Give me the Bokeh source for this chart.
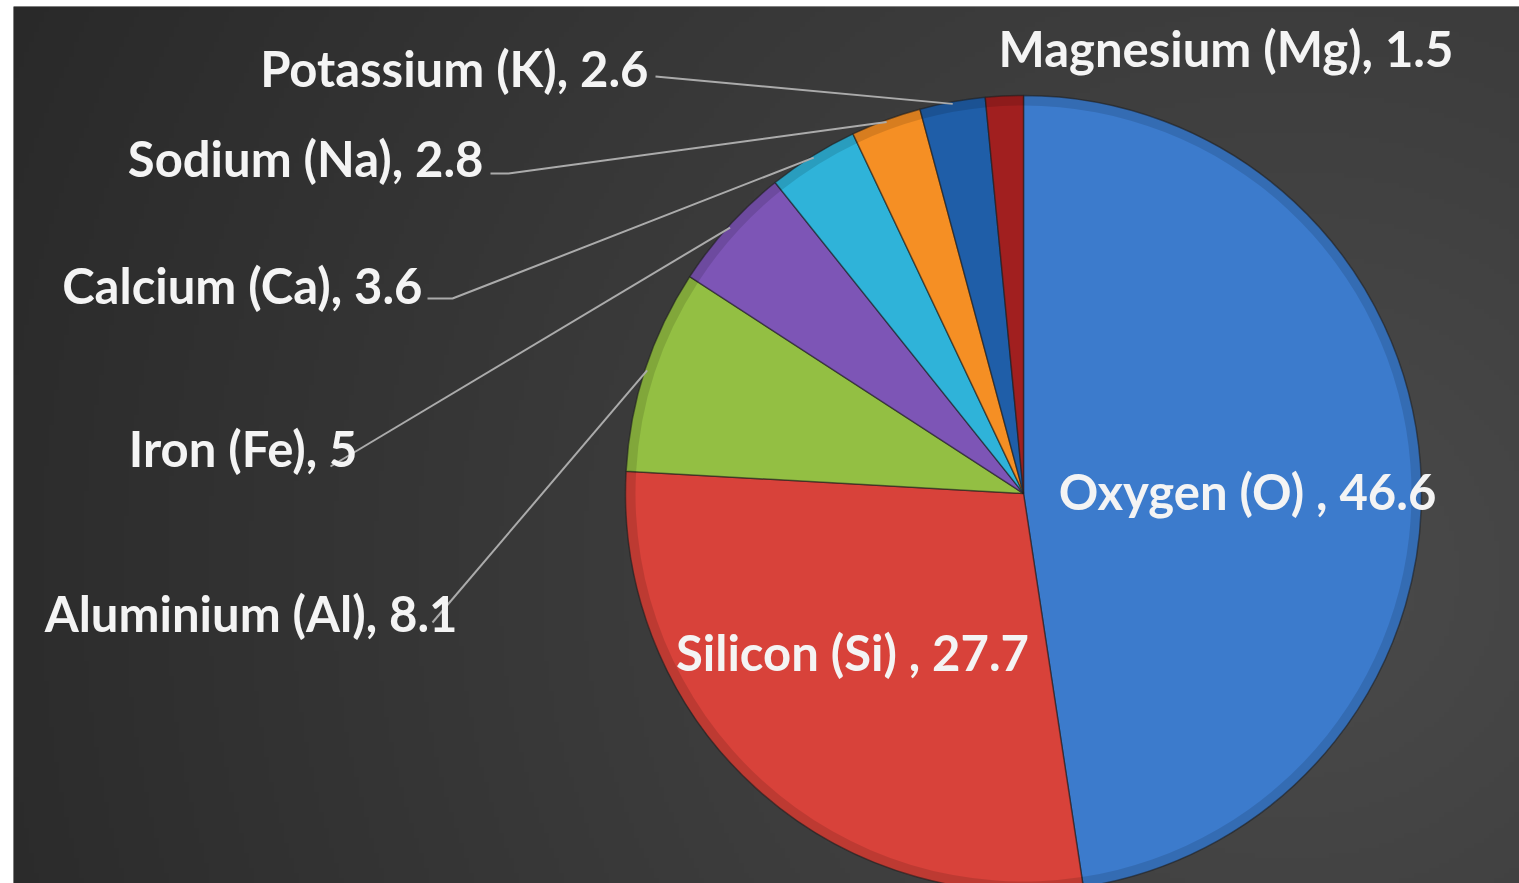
import numpy as np
from math import pi, cos, sin
from bokeh.plotting import figure
from bokeh.models import Range1d
from bokeh.embed import file_html
from bokeh.resources import INLINE
from bokeh.core.properties import value

# ---- data ----
elements = ["Oxygen (O)", "Silicon (Si)", "Aluminium (Al)", "Iron (Fe)",
            "Calcium (Ca)", "Sodium (Na)", "Potassium (K)", "Magnesium (Mg)"]
percent = [46.6, 27.7, 8.1, 5, 3.6, 2.8, 2.6, 1.5]
value_text = ["46.6", "27.7", "8.1", "5", "3.6", "2.8", "2.6", "1.5"]
separators = [" , ", " , ", ", ", ", ", ", ", ", ", ", ", ", "]
colors = ["#3c7bcc", "#d8423a", "#93bf43", "#7d55b6",
          "#2fb3d9", "#f58f24", "#1f5ea8", "#a11f1f"]

# ---- layout (screen pixel coordinates of the reference) ----
W, H = 1519, 883
LEFT, TOP = 13, 6
def Y(sy):
    return 883 - sy

cx, cy, R = 1023, Y(493), 398
# label anchor (x, baseline y), alignment
label_pos = [(1247, 490, "center"), (852, 651, "center"), (457, 612, "right"),
             (357, 447, "right"), (422, 284, "right"), (483, 157, "right"),
             (648, 67, "right"), (998, 47, "left")]
# leader line start points (None = no leader); optional elbow
leader_start = [None, None, [(432, 622)], [(330, 466)], [(427, 298), (452, 298)],
                [(490, 173), (508, 173)], [(655, 76)], None]

p = figure(width=W, height=H, output_backend="svg", toolbar_location=None,
           x_range=Range1d(LEFT, W), y_range=Range1d(Y(H), Y(TOP)),
           min_border_left=LEFT, min_border_top=TOP,
           min_border_right=0, min_border_bottom=0)
p.axis.visible = False
p.grid.visible = False
p.outline_line_color = None
p.background_fill_color = "#383838"
p.border_fill_color = "white"

# background gradient
nx, ny = 301, 174
gx = np.linspace(0, 1, nx)[None, :]
gy = np.linspace(0, 1, ny)[:, None]  # 0 = bottom, 1 = top
dx = gx - 0.85
dy = (gy - 0.35) * 0.6
d = np.sqrt(dx ** 2 + dy ** 2)
v = np.clip(75 - 36 * d, 39, 77).astype(np.uint8)
img = np.zeros((ny, nx), dtype=np.uint32)
view = img.view(dtype=np.uint8).reshape((ny, nx, 4))
view[:, :, 0] = v
view[:, :, 1] = v
view[:, :, 2] = v
view[:, :, 3] = 255
p.image_rgba(image=[img], x=LEFT, y=Y(H), dw=W - LEFT, dh=H - TOP)

# pie
total = sum(percent)
cum = np.concatenate([[0], np.cumsum(percent)]) / total
starts = [pi / 2 - 2 * pi * c for c in cum[:-1]]
ends = [pi / 2 - 2 * pi * c for c in cum[1:]]
p.wedge(x=cx, y=cy, radius=R, start_angle=starts, end_angle=ends,
        direction="clock", fill_color=colors, line_color="#1e1e1e",
        line_alpha=0.55, line_width=1.5)
# soft rim shading
p.annular_wedge(x=cx, y=cy, inner_radius=R - 10, outer_radius=R,
                start_angle=starts, end_angle=ends, direction="clock",
                fill_color="black", fill_alpha=0.12, line_color=None)

# leader lines
xs, ys = [], []
for i, st in enumerate(leader_start):
    if st is None:
        continue
    mid = pi / 2 - 2 * pi * (cum[i] + cum[i + 1]) / 2
    ex, ey = cx + (R - 2) * cos(mid), cy + (R - 2) * sin(mid)
    xs.append([q[0] for q in st] + [ex])
    ys.append([Y(q[1]) for q in st] + [ey])
p.multi_line(xs=xs, ys=ys, line_color="#ababab", line_width=2)

# labels
for i, (lx, ly, al) in enumerate(label_pos):
    txt = elements[i] + separators[i] + value_text[i]
    p.text(x=[lx], y=[Y(ly)], text=[txt], text_align=al,
           text_baseline="alphabetic", text_color="#f4f4f4",
           text_font=value("Lato"), text_font_style="bold",
           text_font_size="49px")

open("out.html", "w").write(file_html(p, INLINE))
